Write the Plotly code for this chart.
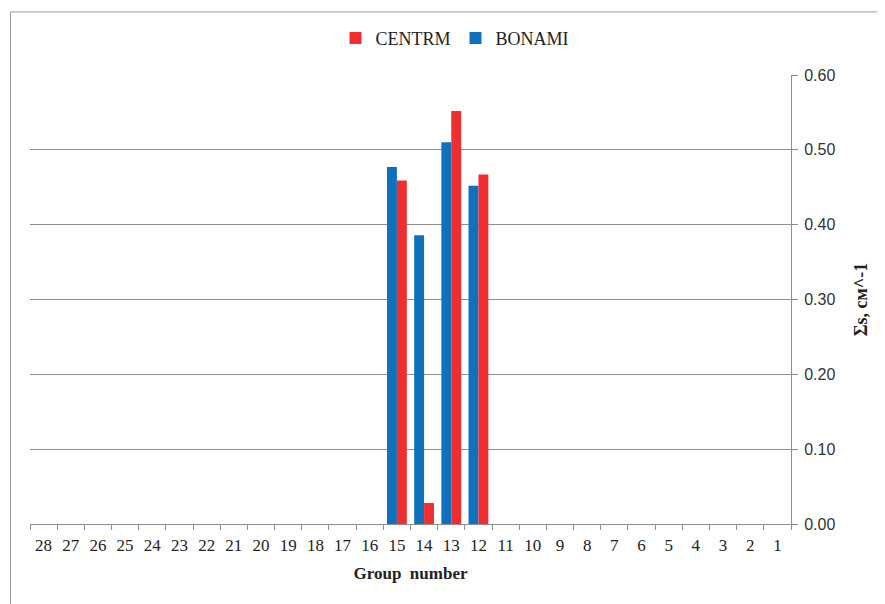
import plotly.graph_objects as go

groups = [str(g) for g in range(28, 0, -1)]
centrm_vals = {"15": 0.459, "14": 0.028, "13": 0.552, "12": 0.467}
bonami_vals = {"15": 0.477, "14": 0.386, "13": 0.510, "12": 0.452}
centrm = [centrm_vals.get(g) for g in groups]
bonami = [bonami_vals.get(g) for g in groups]
y_ticks = [0.0, 0.1, 0.2, 0.3, 0.4, 0.5, 0.6]

RED = "#EE2E2F"
BLUE = "#0F71BD"
SERIF = "Liberation Serif, Times New Roman, serif"
SANS = "Liberation Sans, Arial, sans-serif"
GRID = "#8E8E8E"

fig = go.Figure()
fig.add_trace(go.Bar(x=groups, y=bonami, name="BONAMI", marker_color=BLUE,
                     marker_line_width=0, legendrank=2))
fig.add_trace(go.Bar(x=groups, y=centrm, name="CENTRM", marker_color=RED,
                     marker_line_width=0, legendrank=1))

# page body has an 8px margin, so the figure starts at (8, 8)
W, H = 877, 596
L, R, T, B = 22, 94, 64, 80
pw, ph = W - L - R, H - T - B
bx = (2.5 - L) / pw
by = 1 + (T - 0.5) / ph

fig.update_layout(
    width=W, height=H,
    margin=dict(l=L, r=R, t=T, b=B, pad=0),
    paper_bgcolor="white", plot_bgcolor="white",
    barmode="group", bargap=0.27, bargroupgap=0,
    showlegend=True,
    legend=dict(orientation="h", x=(447 - L) / pw, xanchor="center",
                y=1 + (T - 27) / ph, yanchor="middle",
                font=dict(family=SERIF, size=18, color="#222"),
                itemwidth=30, tracegroupgap=0),
    xaxis=dict(
        type="category", categoryorder="array", categoryarray=groups,
        showline=True, linecolor=GRID, linewidth=1,
        ticks="outside", tickson="boundaries", ticklen=5, tickcolor=GRID,
        ticklabelstandoff=6,
        tickfont=dict(family=SERIF, size=17, color="#222"),
        title=dict(text="<b>Group  number</b>", font=dict(family=SERIF, size=17, color="#222"),
                   standoff=12),
        showgrid=False, zeroline=False,
    ),
    yaxis=dict(
        side="right", range=[0, 0.6], tickvals=y_ticks, tickformat=".2f",
        showline=True, linecolor=GRID, linewidth=1,
        ticks="outside", ticklen=6, tickcolor=GRID,
        ticklabelstandoff=3,
        showgrid=True, gridcolor=GRID, gridwidth=1,
        tickfont=dict(family=SANS, size=16, color="#333"),
        title=dict(text="<b>Σs, см^-1</b>", font=dict(family=SERIF, size=18, color="#222"),
                   standoff=19),
        zeroline=False,
    ),
    shapes=[
        dict(type="line", xref="paper", yref="paper", x0=bx, x1=bx, y0=by, y1=-1,
             line=dict(color="#9A9A9A", width=1)),
        dict(type="line", xref="paper", yref="paper", x0=bx, x1=2, y0=by, y1=by,
             line=dict(color="#9A9A9A", width=1)),
    ],
)

fig.write_html("out.html")
